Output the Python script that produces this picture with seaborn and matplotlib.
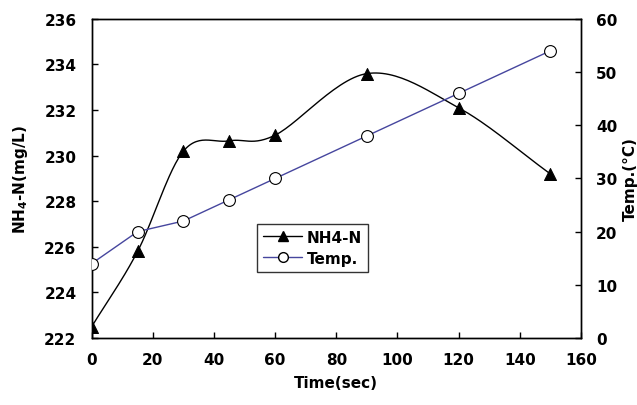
import numpy as np
import pandas as pd
import seaborn as sns
import matplotlib.pyplot as plt
from matplotlib.lines import Line2D

# data
time_sec = [0, 15, 30, 45, 60, 90, 120, 150]
nh4_n = [222.5, 225.8, 230.2, 230.65, 230.9, 233.6, 232.1, 229.2]
temp_c = [14, 20, 22, 26, 30, 38, 46, 54]

df = pd.DataFrame({"time": time_sec, "nh4": nh4_n, "temp": temp_c})

sns.set_style("ticks")
plt.rcParams['font.family'] = ['DejaVu Sans']
plt.rcParams['font.weight'] = 'bold'
for k in ('text.color', 'axes.labelcolor', 'xtick.color', 'ytick.color'):
    plt.rcParams[k] = 'black'


# Excel-style smoothed line (Catmull-Rom through the points)
def smooth_curve(x, y, n=30):
    x = np.asarray(x, float)
    y = np.asarray(y, float)
    px = np.concatenate([[2 * x[0] - x[1]], x, [2 * x[-1] - x[-2]]])
    py = np.concatenate([[2 * y[0] - y[1]], y, [2 * y[-1] - y[-2]]])
    xs, ys = [], []
    for i in range(1, len(px) - 2):
        t = np.linspace(0, 1, n)
        for p, out in ((px, xs), (py, ys)):
            p0, p1, p2, p3 = p[i - 1], p[i], p[i + 1], p[i + 2]
            out.append(0.5 * ((2 * p1) + (-p0 + p2) * t
                              + (2 * p0 - 5 * p1 + 4 * p2 - p3) * t ** 2
                              + (-p0 + 3 * p1 - 3 * p2 + p3) * t ** 3))
    return np.concatenate(xs), np.concatenate(ys)


fig, ax = plt.subplots(figsize=(6.37, 4.06), dpi=100)
fig.subplots_adjust(left=0.144, right=0.912, top=0.951, bottom=0.165)

blue = '#46469e'

sx, sy = smooth_curve(df["time"], df["nh4"])
ax.plot(sx, sy, color='black', lw=1.0, zorder=3)
sns.scatterplot(data=df, x="time", y="nh4", marker='^', s=75, color='black',
                edgecolor='black', ax=ax, zorder=4)

ax2 = ax.twinx()
sns.lineplot(data=df, x="time", y="temp", color=blue, lw=1.0, marker='o',
             markersize=8.5, markerfacecolor='white', markeredgecolor='black',
             markeredgewidth=0.8, ax=ax2, zorder=3)

ax.set_xlim(0, 160)
ax.set_ylim(222, 236)
ax2.set_ylim(0, 60)
ax.set_xticks(range(0, 161, 20))
ax.set_yticks(range(222, 237, 2))
ax2.set_yticks(range(0, 61, 10))

fs = 11
ax.set_xlabel("Time(sec)", fontsize=fs, fontweight='bold', labelpad=6)
ax.set_ylabel("NH$_\\mathbf{4}$-N(mg/L)", fontsize=fs, fontweight='bold',
              labelpad=10)
ax2.set_ylabel("Temp.(°C)", fontsize=fs, fontweight='bold', labelpad=4)

for a in (ax, ax2):
    a.tick_params(direction='in', length=4, labelsize=fs, width=1)
    for s in a.spines.values():
        s.set_linewidth(1.0)
        s.set_color('black')
ax.tick_params(axis='x', pad=10)
ax.tick_params(axis='y', pad=11)
ax2.tick_params(axis='y', pad=11)

handles = [
    Line2D([], [], color='black', lw=1, marker='^', markersize=7,
           markerfacecolor='black'),
    Line2D([], [], color=blue, lw=1, marker='o', markersize=7,
           markerfacecolor='white', markeredgecolor='black'),
]
leg = ax.legend(handles, ["NH4-N", "Temp."], loc='lower left',
                bbox_to_anchor=(0.337, 0.207), borderaxespad=0,
                frameon=True, fancybox=False, fontsize=fs,
                handlelength=2.6, handletextpad=0.3, borderpad=0.4,
                labelspacing=0.4)
leg.get_frame().set_edgecolor('black')
leg.get_frame().set_linewidth(1.0)
for t in leg.get_texts():
    t.set_fontweight('bold')

plt.savefig("out.png", dpi=100)
